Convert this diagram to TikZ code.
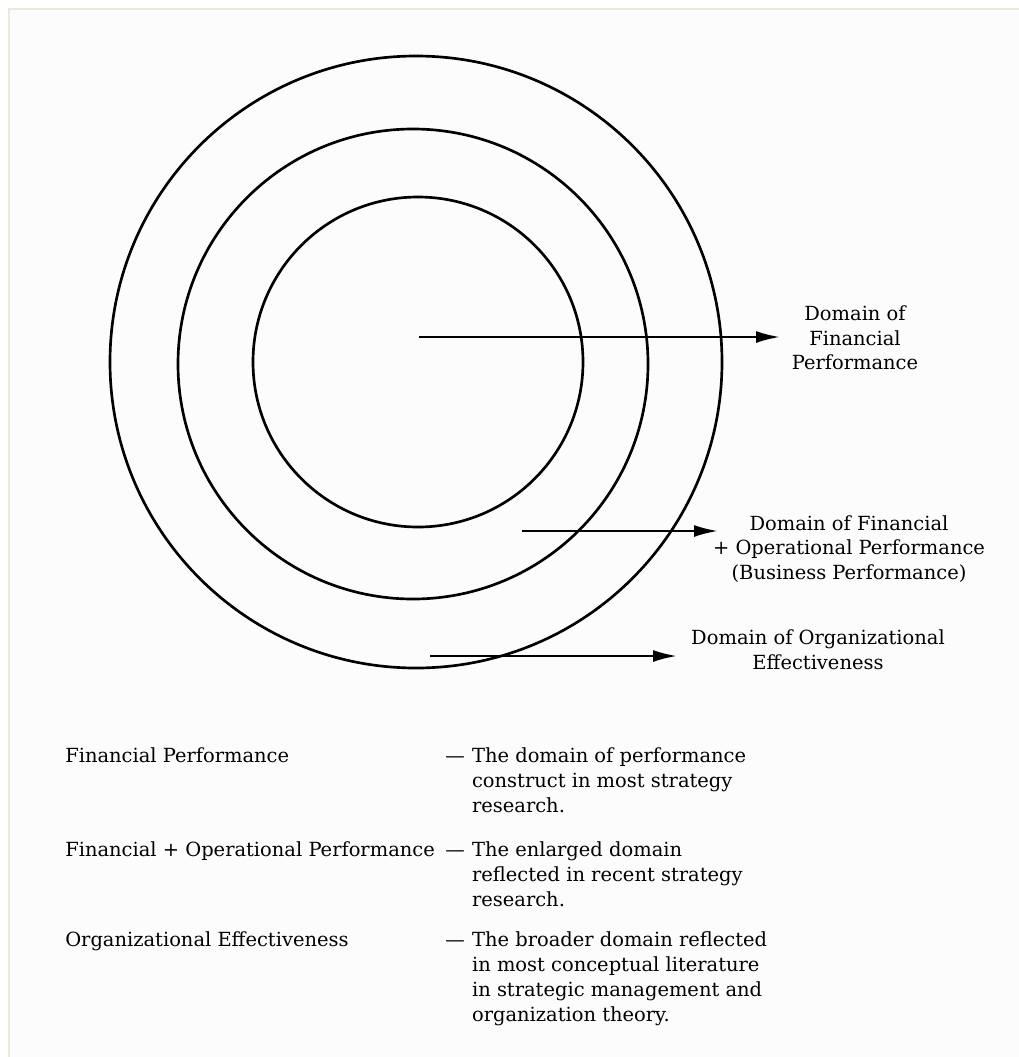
\documentclass[tikz,border=0pt]{standalone}
\usepackage{fontspec}
\setmainfont{DejaVu Serif}
\usetikzlibrary{arrows.meta}
\definecolor{framec}{HTML}{E9E9DC}
\definecolor{paperc}{HTML}{FCFCFC}
\newcommand{\lblfont}{\fontsize{14.6}{18.45}\selectfont}
\newcommand{\txtfont}{\fontsize{14.6}{18.8}\selectfont}
\begin{document}
\begin{tikzpicture}[x=0.75pt,y=-0.75pt,
  ring/.style={line width=2pt},
  pointer/.style={line width=1.8pt,-{Latex[length=18pt,width=9pt]}},
  domlabel/.style={align=center,font=\lblfont,inner sep=0pt},
  txt/.style={anchor=base west,inner sep=0pt,font=\txtfont}]
\path[use as bounding box] (0,0) rectangle (1019,1057);
\fill[paperc] (8.5,8.5) rectangle (1019,1057);
\draw[framec,line width=1.5pt] (8.5,1057) -- (8.5,8.5) -- (1019,8.5);
% rings
\draw[ring] (416,362) circle[radius=306];
\draw[ring] (413,364) circle[radius=235];
\draw[ring] (418,362) circle[radius=165];
% domain labels
\node[domlabel] (lab1) at (855,338) {Domain of\\Financial\\Performance};
\node[domlabel] (lab2) at (849,549) {Domain of Financial\\+ Operational Performance\\(Business Performance)};
\node[domlabel] (lab3) at (818,650) {Domain of Organizational\\Effectiveness};
% arrows
\coordinate (a1s) at (419,337);
\coordinate (a1e) at (780,337);
\coordinate (a2s) at (522,531);
\coordinate (a2e) at (718,531);
\coordinate (a3s) at (430,656);
\coordinate (a3e) at (677,656);
\draw[pointer] (a1s) -- (a1e);
\draw[pointer] (a2s) -- (a2e);
\draw[pointer] (a3s) -- (a3e);
% legend
\node[txt] (k1) at (65,762) {Financial Performance};
\node[txt] (d1) at (445,762) {\begin{tabular}[t]{@{}l@{\hspace{5.5pt}}l@{}}—&The domain of performance\\&construct in most strategy\\&research.\end{tabular}};
\node[txt] (k2) at (65,856) {Financial + Operational Performance};
\node[txt] (d2) at (445,856) {\begin{tabular}[t]{@{}l@{\hspace{5.5pt}}l@{}}—&The enlarged domain\\&reflected in recent strategy\\&research.\end{tabular}};
\node[txt] (k3) at (65,946) {Organizational Effectiveness};
\node[txt] (d3) at (445,946) {\begin{tabular}[t]{@{}l@{\hspace{5.5pt}}l@{}}—&The broader domain reflected\\&in most conceptual literature\\&in strategic management and\\&organization theory.\end{tabular}};
\end{tikzpicture}
\end{document}
